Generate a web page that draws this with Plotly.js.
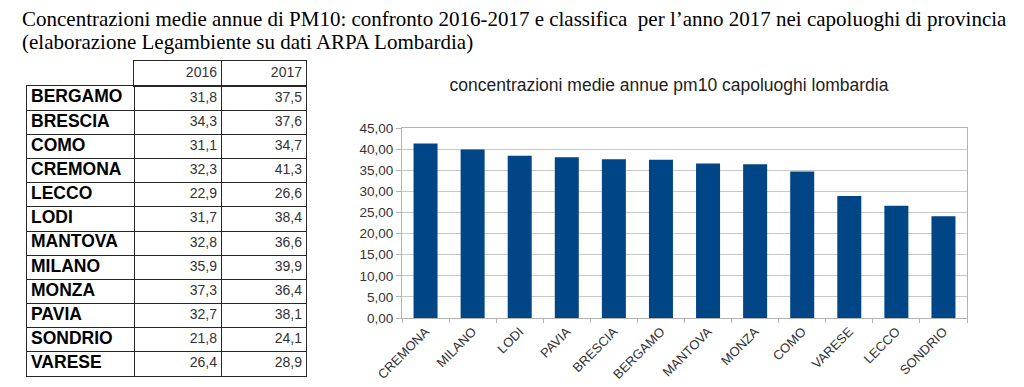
<!DOCTYPE html>
<html>
<head>
<meta charset="utf-8">
<script src="https://cdn.plot.ly/plotly-3.0.1.min.js"></script>
<style>html,body{margin:0;padding:0;background:#fff;}#chart{width:1024px;height:387px;}</style>
</head>
<body>
<div id="chart"></div>
<script>
// ---- data ----
const cities = ['BERGAMO','BRESCIA','COMO','CREMONA','LECCO','LODI','MANTOVA','MILANO','MONZA','PAVIA','SONDRIO','VARESE'];
const pm2016 = [31.8, 34.3, 31.1, 32.3, 22.9, 31.7, 32.8, 35.9, 37.3, 32.7, 21.8, 26.4];
const pm2017 = [37.5, 37.6, 34.7, 41.3, 26.6, 38.4, 36.6, 39.9, 36.4, 38.1, 24.1, 28.9];
const yearLabels = ['2016', '2017'];
const titleLine1 = 'Concentrazioni medie annue di PM10: confronto 2016-2017 e classifica  per l\u2019anno 2017 nei capoluoghi di provincia';
const titleLine2 = '(elaborazione Legambiente su dati ARPA Lombardia)';
const chartTitle = 'concentrazioni medie annue pm10 capoluoghi lombardia';

// ranking for 2017 (descending)
const order = cities.map((c, i) => i).sort((a, b) => pm2017[b] - pm2017[a]);
const rankCities = order.map(i => cities[i]);
const rankValues = order.map(i => pm2017[i]);

// ---- layout helpers ----
const W = 1024, H = 387;
const px = v => v / W, py = v => 1 - v / H;
const colW = [107, 87, 85];                 // table column widths (px)
const colEdge = [0, colW[0], colW[0] + colW[1], colW[0] + colW[1] + colW[2]];
const fmt = v => v.toFixed(1).replace('.', ',');
const rowIdx = cities.map((c, i) => i + 0.5);
const PAD = 4;
const SANS = 'Liberation Sans, Arial, sans-serif';
const BORDER = '#262626';

const traces = [
  {
    type: 'bar', x: rankCities, y: rankValues,
    marker: {color: '#004586'}, xaxis: 'x', yaxis: 'y', hoverinfo: 'x+y'
  },
  { // city names
    type: 'scatter', mode: 'text', xaxis: 'x2', yaxis: 'y2',
    x: cities.map(() => colEdge[0] + PAD), y: rowIdx,
    text: cities.map(c => '<b>' + c + '</b>'),
    textposition: 'middle right', cliponaxis: false,
    textfont: {family: SANS, size: 17.5, color: '#000'}, hoverinfo: 'skip'
  },
  { // 2016 values
    type: 'scatter', mode: 'text', xaxis: 'x2', yaxis: 'y2',
    x: cities.map(() => colEdge[2] - PAD), y: rowIdx,
    text: pm2016.map(fmt),
    textposition: 'middle left', cliponaxis: false,
    textfont: {family: SANS, size: 14, color: '#333'}, hoverinfo: 'skip'
  },
  { // 2017 values
    type: 'scatter', mode: 'text', xaxis: 'x2', yaxis: 'y2',
    x: cities.map(() => colEdge[3] - PAD), y: rowIdx,
    text: pm2017.map(fmt),
    textposition: 'middle left', cliponaxis: false,
    textfont: {family: SANS, size: 14, color: '#333'}, hoverinfo: 'skip'
  },
  { // header
    type: 'scatter', mode: 'text', xaxis: 'x3', yaxis: 'y3',
    x: [colEdge[2] - PAD, colEdge[3] - PAD], y: [0.5, 0.5],
    text: yearLabels,
    textposition: 'middle left', cliponaxis: false,
    textfont: {family: SANS, size: 14, color: '#333'}, hoverinfo: 'skip'
  }
];

const tableAxis = (extra) => Object.assign({
  showline: true, mirror: true, linecolor: BORDER, linewidth: 1,
  showgrid: true, gridcolor: BORDER, gridwidth: 1,
  showticklabels: false, ticks: '', zeroline: false, fixedrange: true
}, extra);

const layout = {
  width: W, height: H,
  margin: {l: 0, r: 0, t: 0, b: 0},
  paper_bgcolor: '#fff', plot_bgcolor: 'rgba(0,0,0,0)',
  separators: ',.',
  showlegend: false,
  bargap: 0.49,
  font: {family: SANS, color: '#333'},
  title: {
    text: chartTitle,
    x: 669 / W, xanchor: 'center',
    y: py(85), yanchor: 'middle',
    font: {family: SANS, size: 17.5, color: '#222'}
  },
  xaxis: {
    domain: [px(402), px(967)], anchor: 'y',
    tickangle: -45,
    tickfont: {size: 13, color: '#333'},
    showline: true, linecolor: '#b3b3b3', linewidth: 1, mirror: true,
    ticks: 'outside', tickson: 'boundaries', ticklen: 4, tickcolor: '#b3b3b3',
    showgrid: false
  },
  yaxis: {
    domain: [py(318), py(128)], anchor: 'x',
    range: [0, 45], dtick: 5, tickformat: '.2f',
    tickfont: {size: 13.5, color: '#333'},
    showline: true, linecolor: '#b3b3b3', linewidth: 1, mirror: true,
    ticks: 'outside', ticklen: 5, tickcolor: '#b3b3b3',
    gridcolor: '#c8c8c8', gridwidth: 1, zeroline: false
  },
  // table body
  xaxis2: tableAxis({domain: [px(27), px(306)], anchor: 'y2', range: [colEdge[0], colEdge[3]],
    tickmode: 'array', tickvals: [colEdge[1], colEdge[2]]}),
  yaxis2: tableAxis({domain: [py(376), py(86)], anchor: 'x2', range: [cities.length, 0],
    tickmode: 'array', tickvals: cities.map((c, i) => i).slice(1)}),
  // table header (years only)
  xaxis3: tableAxis({domain: [px(134), px(306)], anchor: 'y3', range: [colEdge[1], colEdge[3]],
    tickmode: 'array', tickvals: [colEdge[2]]}),
  yaxis3: tableAxis({domain: [py(86), py(61)], anchor: 'x3', range: [0, 1],
    tickmode: 'array', tickvals: []}),
  annotations: [
    {text: titleLine1, xref: 'paper', yref: 'paper', x: px(20), xanchor: 'left',
     y: py(19), yanchor: 'middle', showarrow: false,
     font: {family: 'Liberation Serif, Times New Roman, serif', size: 21, color: '#000'}},
    {text: titleLine2, xref: 'paper', yref: 'paper', x: px(20), xanchor: 'left',
     y: py(42), yanchor: 'middle', showarrow: false,
     font: {family: 'Liberation Serif, Times New Roman, serif', size: 21, color: '#000'}}
  ]
};

Plotly.newPlot('chart', traces, layout, {displayModeBar: false, staticPlot: true});
</script>
</body>
</html>
